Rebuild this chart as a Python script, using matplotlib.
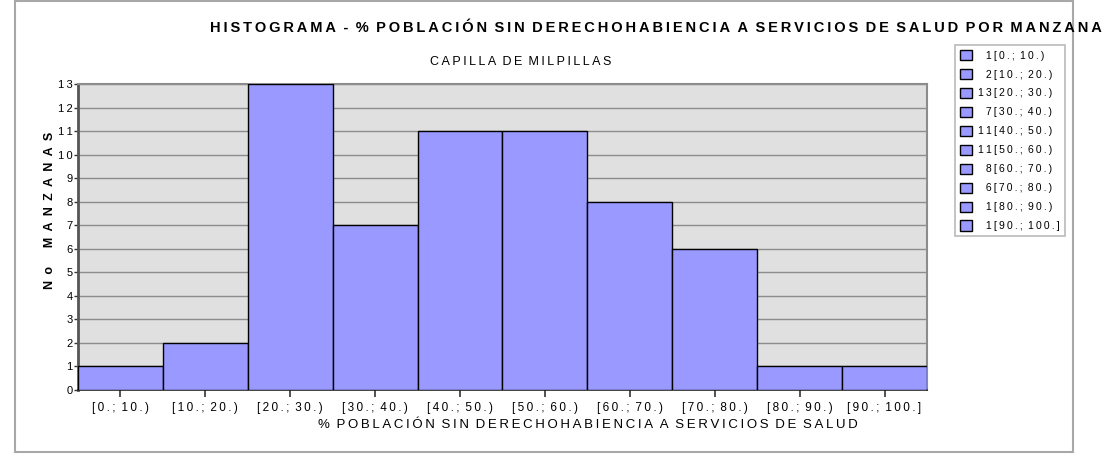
import matplotlib.pyplot as plt
from matplotlib.patches import Patch, Rectangle

# data
bins = ['[0.; 10.)', '[10.; 20.)', '[20.; 30.)', '[30.; 40.)', '[40.; 50.)',
        '[50.; 60.)', '[60.; 70.)', '[70.; 80.)', '[80.; 90.)', '[90.; 100.]']
counts = [1, 2, 13, 7, 11, 11, 8, 6, 1, 1]

title = 'HISTOGRAMA - % POBLACIÓN SIN DERECHOHABIENCIA A SERVICIOS DE SALUD POR MANZANA'
subtitle = 'CAPILLA DE MILPILLAS'
xlabel = '% POBLACIÓN SIN DERECHOHABIENCIA A SERVICIOS DE SALUD'
ylabel = 'No MANZANAS'

bar_color = '#9999FF'
W, H = 1111, 458

plt.rcParams['font.family'] = ['Liberation Sans', 'DejaVu Sans']


def spaced(s, letter='\u2009', word='\u2002'):
    # fake the wide letter spacing of the original
    words = s.split(' ')
    return word.join(letter.join(w) for w in words)


fig = plt.figure(figsize=(W / 100, H / 100), dpi=100)

# outer frame
fig.patches.append(Rectangle((15 / W, 1 - 452 / H), (1073 - 15) / W, (452 - 1) / H,
                             transform=fig.transFigure, fill=False,
                             edgecolor='#A8A8A8', lw=1.5))

ax = fig.add_axes([78 / W, 1 - 390 / H, (927 - 78) / W, (390 - 84) / H])
ax.set_facecolor('#E0E0E0')

x = list(range(len(bins)))
ax.bar(x, counts, width=1.0, color=bar_color, edgecolor='black', lw=1, zorder=3)

ax.set_xlim(-0.5, len(bins) - 0.5)
ax.set_ylim(0, 13)
ax.set_yticks(range(0, 14))
ax.set_yticklabels([spaced(str(v)) for v in range(0, 14)], fontsize=8)
ax.set_xticks(x)
ax.set_xticklabels([spaced(b) for b in bins], fontsize=8.5)
ax.tick_params(axis='x', length=5, width=1.2, color='#333333', pad=4)
ax.tick_params(axis='y', length=3, width=1, color='#333333', pad=1)
ax.yaxis.grid(True, color='#8C8C8C', lw=1, zorder=1)
ax.set_axisbelow(True)

for side in ['top', 'right']:
    ax.spines[side].set_color('#8C8C8C')
    ax.spines[side].set_linewidth(1.5)
ax.spines['left'].set_color('#555555')
ax.spines['left'].set_linewidth(2)
ax.spines['bottom'].set_color('#222222')
ax.spines['bottom'].set_linewidth(1.2)

fig.text(588 / W, 1 - 425 / H, spaced(xlabel), fontsize=9.5, ha='center', va='center')
fig.text(50 / W, 1 - 210 / H, spaced(ylabel, '\u2002', '\u2003\u2002'),
         rotation=90, fontsize=9, fontweight='bold', ha='center', va='center')

fig.text(656 / W, 1 - 28 / H, spaced(title), fontsize=10.5, fontweight='bold',
         ha='center', va='center')
fig.text(521 / W, 1 - 62 / H, spaced(subtitle), fontsize=9, ha='center', va='center')

handles = [Patch(facecolor=bar_color, edgecolor='black', lw=1) for _ in bins]
# single-digit counts get a figure space so they line up like the original
labels = [spaced(f'{c:>2}'.replace(' ', '\u2007') + b) for c, b in zip(counts, bins)]
leg = fig.legend(handles, labels, loc='upper left',
                 bbox_to_anchor=(955 / W, 1 - 45 / H), fontsize=7.5,
                 frameon=True, fancybox=False, handlelength=1.2, handleheight=1.2,
                 handletextpad=0.6, labelspacing=0.78, borderpad=0.45,
                 borderaxespad=0)
leg.get_frame().set_edgecolor('#A8A8A8')
leg.get_frame().set_linewidth(1.2)

fig.savefig('out.png', dpi=100)
